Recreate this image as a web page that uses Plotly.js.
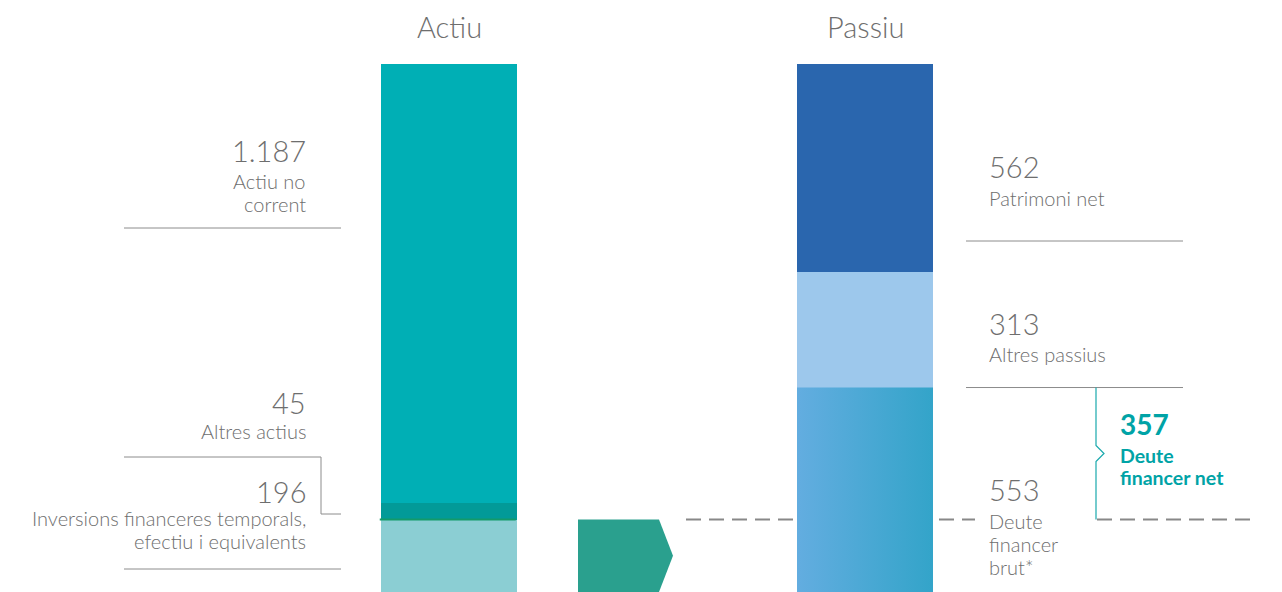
<!DOCTYPE html>
<html>
<head>
<meta charset="utf-8">
<script src="https://cdn.plot.ly/plotly-3.0.1.min.js"></script>
<style>html,body{margin:0;padding:0;background:#fff;}#chart{width:1282px;height:592px;}</style>
</head>
<body>
<div id="chart"></div>
<script>
// ---- data ----
const categories = ['Actiu', 'Passiu'];
const actiuLabels = ['Inversions financeres temporals,<br>efectiu i equivalents', 'Altres actius', 'Actiu no<br>corrent'];
const actiuValues = [196, 45, 1187];
const passiuLabels = ['Deute<br>financer<br>brut*', 'Altres passius', 'Patrimoni net'];
const passiuValues = [553, 313, 562];
const netDebtLabel = 'Deute<br>financer net';
const netDebtValue = 357;

// ---- helpers ----
const W = 1282, H = 592;
const F = 'Lato, "Open Sans", sans-serif';
const GRAY = '#6e6e6e';
const LINE = '#8c8c8c';
const TEAL = '#00a3a6';
const fmt = v => v.toLocaleString('de-DE');
const total = actiuValues.reduce((a, b) => a + b, 0);
const ymax = total * H / 528;
const BW = 136 / 416;
const px = x => x / W;
const py = y => 1 - y / H;
const dy = pix => pix * ymax / H;   // pixel height -> data units

// one annotation per text line, with custom line spacing
function txt(t, x, baseline, size, anchor, color, weight, spacing) {
  const lines = t.split('<br>');
  const sp = spacing || 23;
  return lines.map((ln, k) => ({
    text: ln, xref: 'paper', yref: 'paper', x: px(x), y: py(baseline + k * sp - 0.33 * size),
    xanchor: anchor, yanchor: 'middle', align: anchor, showarrow: false,
    font: { family: F, size: size, color: color || GRAY, weight: weight || 300 }
  }));
}

const actiuColors = ['#8bced3', '#029a98', '#00afb5'];
const passiuColors = ['#4aa9d6', '#9dc8ec', '#2a66ae'];

const traces = [];
actiuValues.forEach((v, i) => traces.push({
  type: 'bar', x: [0], y: [v], name: actiuLabels[i],
  marker: { color: actiuColors[i], line: { width: 0 } }, width: BW, hoverinfo: 'skip'
}));
passiuValues.forEach((v, i) => traces.push({
  type: 'bar', x: [1], y: [v], name: passiuLabels[i],
  marker: { color: passiuColors[i], line: { width: 0 } }, width: BW, hoverinfo: 'skip'
}));
// gradient overlay on the gross-debt segment (same extent as its bar)
traces.push({
  type: 'scatter', mode: 'lines', hoverinfo: 'skip',
  x: [1 - BW / 2, 1 + BW / 2, 1 + BW / 2, 1 - BW / 2, 1 - BW / 2],
  y: [0, 0, passiuValues[0], passiuValues[0], 0],
  fill: 'toself', line: { width: 0 },
  fillgradient: { type: 'horizontal', colorscale: [[0, '#63ade0'], [1, '#33a4c9']] }
});

const cash = actiuValues[0];
const grossDebt = passiuValues[0];
const mid = (cash + grossDebt) / 2;

const shapes = [
  // left separators
  { type: 'line', xref: 'paper', yref: 'paper', x0: px(124), x1: px(341), y0: py(228), y1: py(228), line: { color: LINE, width: 1 } },
  { type: 'path', xref: 'paper', yref: 'paper',
    path: `M ${px(124)},${py(457)} L ${px(321)},${py(457)} L ${px(321)},${py(514)} L ${px(341)},${py(514)}`,
    line: { color: LINE, width: 1 } },
  { type: 'line', xref: 'paper', yref: 'paper', x0: px(124), x1: px(341), y0: py(569), y1: py(569), line: { color: LINE, width: 1 } },
  // right separators
  { type: 'line', xref: 'paper', yref: 'paper', x0: px(966), x1: px(1183), y0: py(241), y1: py(241), line: { color: LINE, width: 1 } },
  { type: 'line', xref: 'paper', yref: 'y', x0: px(966), x1: px(1183), y0: grossDebt, y1: grossDebt, line: { color: LINE, width: 1 } },
  // green line on top of cash segment
  { type: 'line', xref: 'x', yref: 'y', x0: -BW / 2 - 0.003, x1: BW / 2 - 0.003, y0: cash, y1: cash, line: { color: '#139a6a', width: 2 } },
  // dashed lines at cash level
  { type: 'line', xref: 'paper', yref: 'y', x0: px(686), x1: px(975), y0: cash, y1: cash, layer: 'below', line: { color: '#888', width: 2, dash: '15px,8px' } },
  { type: 'line', xref: 'paper', yref: 'y', x0: px(1097), x1: px(1258), y0: cash, y1: cash, line: { color: '#888', width: 2, dash: '15px,8px' } },
  // net debt bracket
  { type: 'path', xref: 'paper', yref: 'y',
    path: `M ${px(1096)},${grossDebt} L ${px(1096)},${mid + dy(8)} L ${px(1104)},${mid} L ${px(1096)},${mid - dy(8)} L ${px(1096)},${cash}`,
    line: { color: '#19a9ad', width: 1.2 } },
  // arrow
  { type: 'path', xref: 'paper', yref: 'y',
    path: `M ${px(578)},0 L ${px(659)},0 L ${px(673)},${cash / 2} L ${px(659)},${cash} L ${px(578)},${cash} Z`,
    fillcolor: '#2aa08e', line: { width: 0 } }
];

const annotations = [
  // titles
  { text: categories[0], xref: 'x', yref: 'paper', x: 0, y: py(26), yanchor: 'middle', showarrow: false, font: { family: F, size: 29, color: GRAY, weight: 300 } },
  { text: categories[1], xref: 'x', yref: 'paper', x: 1, y: py(26), yanchor: 'middle', showarrow: false, font: { family: F, size: 29, color: GRAY, weight: 300 } }
].concat(
  // left side
  txt(fmt(actiuValues[2]), 308, 160, 29, 'right'),
  txt(actiuLabels[2], 308, 188, 20, 'right'),
  txt(fmt(actiuValues[1]), 308, 412, 29, 'right'),
  txt(actiuLabels[1], 308, 438, 20, 'right'),
  txt(fmt(actiuValues[0]), 308, 501, 29, 'right'),
  txt(actiuLabels[0], 308, 525, 20, 'right'),
  // right side
  txt(fmt(passiuValues[2]), 987, 176, 29, 'left'),
  txt(passiuLabels[2], 987, 205, 20, 'left'),
  txt(fmt(passiuValues[1]), 987, 333, 29, 'left'),
  txt(passiuLabels[1], 987, 361, 20, 'left'),
  txt(fmt(passiuValues[0]), 987, 499, 29, 'left'),
  txt(passiuLabels[0], 987, 528, 20, 'left'),
  txt(fmt(netDebtValue), 1118, 433, 28, 'left', TEAL, 700),
  txt(netDebtLabel, 1118, 462, 19.5, 'left', TEAL, 700, 22)
);

const layout = {
  width: W, height: H,
  margin: { l: 0, r: 0, t: 0, b: 0 },
  paper_bgcolor: '#fff', plot_bgcolor: '#fff',
  barmode: 'stack', showlegend: false,
  xaxis: { type: 'linear', range: [-449 / 416, (W - 449) / 416], visible: false, fixedrange: true },
  yaxis: { range: [0, ymax], visible: false, fixedrange: true },
  shapes: shapes, annotations: annotations
};

Plotly.newPlot('chart', traces, layout, { staticPlot: true, displayModeBar: false });
</script>
</body>
</html>
